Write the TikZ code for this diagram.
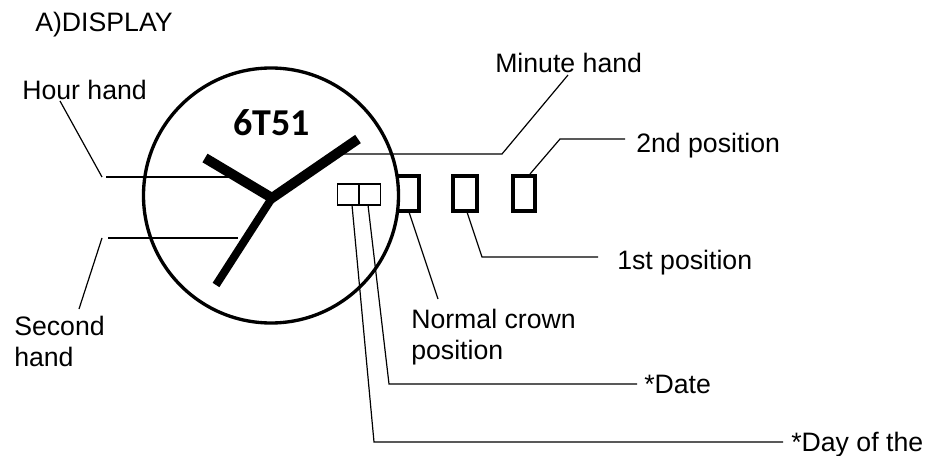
\documentclass[tikz,border=0pt]{standalone}
\usepackage{fontspec}
\setmainfont{Liberation Sans}
\newfontfamily\dialfont{Carlito}
\tikzset{
  lbl/.style={inner sep=0pt,anchor=base west,align=left,font=\fontsize{20}{23}\selectfont},
  leader/.style={line width=0.9pt},
  hand/.style={line width=7.5pt},
  crown/.style={line width=2.8pt},
  window/.style={draw,line width=1.2pt,inner sep=0pt,minimum width=15.5pt,minimum height=15.7pt}
}
\begin{document}
\begin{tikzpicture}[x=0.75pt,y=-0.75pt]
            \useasboundingbox (0,0) rectangle (925,456);
            \node[lbl] (title) at (35,32) {A)DISPLAY};
            \node[lbl] (hourlbl) at (22,100) {Hour hand};
            \node[lbl] (secondlbl) at (14,366) {Second\\hand};
            \node[lbl] (minutelbl) at (495,73) {Minute hand};
            \node[lbl] (secondpos) at (636,153) {2nd position};
            \node[lbl] (firstpos) at (617,269) {1st position};
            \node[lbl] (normalpos) at (411,359) {Normal crown\\position};
            \node[lbl] (datelbl) at (644,393) {*Date};
            \node[lbl] (daylbl) at (791,451) {*Day of the};
            \node[inner sep=0pt,font=\dialfont\bfseries\fontsize{28.5}{30}\selectfont] (model) at (271.5,123) {6T51};
            % dial and hands
            \draw[line width=2.5pt] (271,195.5) circle (127.5);
            \coordinate (pivot) at (272,198);
            \draw[hand] (205,158) -- (pivot) -- (358,139);
            \draw[line width=6pt] (pivot) -- (216,285);
            % crown stops
            \draw[crown] (398,176) -- (419,176) -- (419,211) -- (398,211);
            \draw[crown] (453,176) rectangle (477,211);
            \draw[crown] (513,176) rectangle (535,211);
            % date windows
            \node[window] (daywin) at (348,194.5) {};
            \node[window] (datewin) at (370,194.5) {};
            % leaders
            \coordinate (hourknee) at (102,177);
            \coordinate (secondknee) at (102,238);
            \draw[leader] (60,101) -- (hourknee);
            \draw[leader] (106,177) -- (230,177);
            \draw[leader] (79,309) -- (secondknee);
            \draw[leader] (108,238) -- (238,238);
            \draw[leader] (343,154) -- (502,154) -- (568,75);
            \draw[leader] (530,174) -- (560,139) -- (625,139);
            \draw[leader] (467,212) -- (482,257) -- (598,257);
            \draw[leader] (409,212) -- (438,299);
            \draw[leader] (368,205) -- (389,384) -- (637,384);
            \draw[leader] (352,205) -- (374,442) -- (783,442);
\end{tikzpicture}
\end{document}
